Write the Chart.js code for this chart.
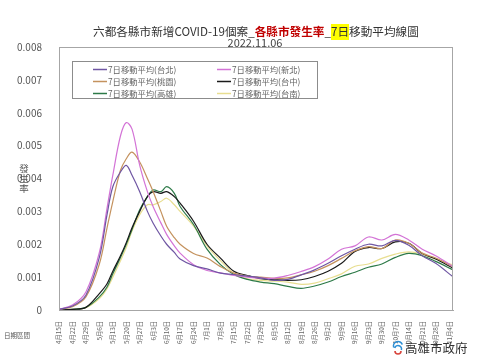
<!DOCTYPE html>
<html>
<head>
<meta charset="utf-8">
<script src="https://cdn.jsdelivr.net/npm/chart.js@4"></script>
<style>
  html, body { margin: 0; padding: 0; background: #fff; }
  #wrap { width: 480px; height: 359px; position: relative; }
</style>
</head>
<body>
<div id="wrap"><canvas id="rateChart" width="480" height="359"></canvas></div>
<script>
// 六都 7日移動平均發生率 (讀圖估計值)

// 取樣日 (自 4月15日 起算的天數)
const sampleDays = [0, 7, 14, 21, 25, 28, 32, 35, 38, 42, 46, 49, 53, 56, 60, 63, 70, 77, 84, 91,
  98, 105, 112, 119, 126, 133, 140, 147, 154, 161, 168, 175, 182, 189, 196, 205];

const tickLabels = ['4月15日', '4月22日', '4月29日', '5月6日', '5月13日', '5月20日', '5月27日',
  '6月3日', '6月10日', '6月17日', '6月24日', '7月1日', '7月8日', '7月15日', '7月22日', '7月29日',
  '8月5日', '8月12日', '8月19日', '8月26日', '9月2日', '9月9日', '9月16日', '9月23日', '9月30日',
  '10月7日', '10月14日', '10月21日', '10月28日', '11月4日'];

const cityNames = ['7日移動平均(台北)', '7日移動平均(新北)', '7日移動平均(桃園)',
  '7日移動平均(台中)', '7日移動平均(高雄)', '7日移動平均(台南)'];

const taipei = [0.00002, 0.00012, 0.00045, 0.0016, 0.0029, 0.00375, 0.0042, 0.0044, 0.0041,
  0.0036, 0.0030, 0.00264, 0.00225, 0.0020, 0.00175, 0.00155, 0.00135, 0.00125, 0.00112, 0.00108,
  0.00103, 0.00098, 0.0009, 0.00093, 0.00107, 0.00122, 0.00142, 0.00165, 0.00185, 0.0020,
  0.00195, 0.00212, 0.00197, 0.00165, 0.00142, 0.00101];

const newTaipei = [0.00002, 0.00015, 0.00055, 0.00175, 0.0031, 0.0041, 0.0053, 0.0057, 0.0055,
  0.0044, 0.0036, 0.00314, 0.00265, 0.0023, 0.00195, 0.00173, 0.00138, 0.0012, 0.00113, 0.00105,
  0.001, 0.00097, 0.00097, 0.00105, 0.00117, 0.00132, 0.00155, 0.00185, 0.00195, 0.00222,
  0.00213, 0.0023, 0.00213, 0.00185, 0.00165, 0.00132];

const taoyuan = [0.00002, 0.0001, 0.0004, 0.0014, 0.0025, 0.0033, 0.00425, 0.0046, 0.0048,
  0.0045, 0.0040, 0.0036, 0.0030, 0.00255, 0.0022, 0.0020, 0.00172, 0.00158, 0.00132, 0.00112,
  0.00103, 0.001, 0.00096, 0.00098, 0.00107, 0.00118, 0.00135, 0.00157, 0.0018, 0.00193,
  0.00187, 0.00213, 0.00203, 0.00173, 0.00158, 0.00132];

const taichung = [0, 0.00002, 0.00008, 0.0005, 0.0008, 0.00118, 0.00165, 0.00205, 0.0025,
  0.003, 0.00345, 0.0036, 0.00355, 0.0036, 0.00345, 0.00325, 0.0027, 0.002, 0.00158, 0.00118,
  0.00105, 0.00095, 0.00092, 0.0009, 0.00092, 0.00102, 0.00118, 0.00142, 0.00178, 0.0019,
  0.00187, 0.00207, 0.00203, 0.00172, 0.00155, 0.00127];

const kaohsiung = [0, 0.00002, 0.00008, 0.0004, 0.0007, 0.0011, 0.0016, 0.002, 0.00245,
  0.00305, 0.00345, 0.00365, 0.0036, 0.00375, 0.00355, 0.00315, 0.0026, 0.00185, 0.00138, 0.00108,
  0.00093, 0.00085, 0.0008, 0.00072, 0.00066, 0.00073, 0.00085, 0.00102, 0.00115, 0.0013,
  0.0014, 0.0016, 0.00172, 0.00165, 0.00148, 0.00122];

const tainan = [0, 0.00002, 0.00007, 0.00035, 0.00065, 0.001, 0.0015, 0.0019, 0.0024,
  0.0029, 0.0032, 0.0032, 0.0033, 0.0034, 0.0032, 0.003, 0.00255, 0.00195, 0.0015, 0.00112,
  0.00095, 0.0009, 0.00088, 0.00085, 0.00078, 0.00082, 0.00095, 0.0011, 0.00133, 0.0014,
  0.00157, 0.0017, 0.00177, 0.0017, 0.00155, 0.00137];

const seriesValues = [taipei, newTaipei, taoyuan, taichung, kaohsiung, tainan];
const lineColors = ['#6f56a3', '#d373d6', '#c4925e', '#1a1a1a', '#2d7a48', '#e8de90'];

const FONT = "'Noto Sans CJK TC', 'Noto Sans', sans-serif";

// 標題、圖例、其他文字
const decorPlugin = {
  id: 'decor',
  afterDatasetsDraw(chart) {
    const ctx = chart.ctx;
    const area = chart.chartArea;
    ctx.save();

    // 外框
    ctx.strokeStyle = '#a6a6a6';
    ctx.lineWidth = 1;
    ctx.strokeRect(area.left + 0.5, area.top + 0.5, area.right - area.left - 1, area.bottom - area.top);

    // 圖例
    ctx.fillStyle = '#fff';
    ctx.fillRect(72.5, 61.5, 245, 37);
    ctx.strokeStyle = '#8c8c8c';
    ctx.strokeRect(72.5, 61.5, 245, 37);
    ctx.font = '8.3px ' + FONT;
    ctx.textBaseline = 'middle';
    ctx.textAlign = 'left';
    chart.data.datasets.forEach(function(ds, i) {
      const x0 = i % 2 === 0 ? 93 : 217;
      const y0 = 69.5 + Math.floor(i / 2) * 12;
      ctx.strokeStyle = ds.borderColor;
      ctx.lineWidth = 1.5;
      ctx.beginPath();
      ctx.moveTo(x0, y0);
      ctx.lineTo(x0 + 14, y0);
      ctx.stroke();
      ctx.fillStyle = '#666';
      ctx.fillText(ds.label, x0 + 15, y0);
    });
    ctx.restore();
  },
  afterDraw(chart) {
    const ctx = chart.ctx;
    ctx.save();
    ctx.textBaseline = 'middle';

    // 主標題 (分段上色)
    const parts = [
      { t: '六都各縣市新增COVID-19個案', c: '#333', b: false },
      { t: '_', c: '#333', b: false },
      { t: '各縣市發生率', c: '#c00000', b: true },
      { t: '_', c: '#333', b: false },
      { t: '7日', c: '#333', b: false, bg: '#ffff00' },
      { t: '移動平均線圖', c: '#333', b: false }
    ];
    const base = 14;
    let total = 0;
    parts.forEach(function(p) {
      ctx.font = (p.b ? 'bold ' : '') + base + 'px ' + FONT;
      total += ctx.measureText(p.t).width;
    });
    const size = base * 326 / total;
    let x = 93;
    parts.forEach(function(p) {
      ctx.font = (p.b ? 'bold ' : '') + size + 'px ' + FONT;
      const w = ctx.measureText(p.t).width;
      if (p.bg) {
        ctx.fillStyle = p.bg;
        ctx.fillRect(x, 24, w, 16);
      }
      ctx.fillStyle = p.c;
      ctx.textAlign = 'left';
      ctx.fillText(p.t, x, 32);
      x += w;
    });

    // 日期
    ctx.font = '11px ' + FONT;
    ctx.fillStyle = '#444';
    ctx.textAlign = 'center';
    ctx.fillText('2022.11.06', 255, 43);

    // y軸標題 (直書)
    ctx.font = '9.5px ' + FONT;
    ctx.fillStyle = '#555';
    ['發', '生', '率'].forEach(function(ch, i) {
      ctx.fillText(ch, 24, 168 + i * 10);
    });

    // 日期區間
    ctx.font = '6.5px ' + FONT;
    ctx.textAlign = 'left';
    ctx.fillText('日期區間', 4, 336);

    // 高雄市政府
    ctx.strokeStyle = '#2d8fd5';
    ctx.lineWidth = 1.6;
    ctx.beginPath();
    ctx.arc(398, 346, 4.5, Math.PI * 0.9, Math.PI * 1.9);
    ctx.stroke();
    ctx.beginPath();
    ctx.arc(398, 349, 3.5, Math.PI * 1.1, Math.PI * 2.1);
    ctx.stroke();
    ctx.strokeStyle = '#d8443c';
    ctx.beginPath();
    ctx.arc(398, 351, 3, 0, Math.PI);
    ctx.stroke();
    ctx.font = '12.5px ' + FONT;
    ctx.fillStyle = '#333';
    ctx.fillText('高雄市政府', 405, 348);
    ctx.restore();
  }
};

const ctx = document.getElementById('rateChart');
new Chart(ctx.getContext('2d'), {
  type: 'line',
  data: {
    datasets: seriesValues.map(function(vals, i) {
      return {
        label: cityNames[i],
        data: vals.map(function(v, k) { return { x: sampleDays[k], y: v }; }),
        borderColor: lineColors[i],
        backgroundColor: lineColors[i],
        borderWidth: 1.2,
        pointRadius: 0,
        fill: false,
        tension: 0.35
      };
    })
  },
  options: {
    responsive: false,
    animation: false,
    layout: { padding: { top: 47, right: 27, left: 0, bottom: 0 } },
    plugins: {
      legend: { display: false },
      title: { display: false },
      tooltip: { enabled: false }
    },
    scales: {
      x: {
        type: 'linear',
        min: 0,
        max: 205,
        grid: { display: false },
        border: { display: true, color: '#a6a6a6' },
        afterFit: function(scale) { scale.height = 49; },
        ticks: {
          stepSize: 7,
          includeBounds: false,
          autoSkip: false,
          maxTicksLimit: 40,
          minRotation: 90,
          maxRotation: 90,
          padding: 3,
          color: '#666',
          font: { family: FONT, size: 6.3 },
          callback: function(value) {
            return value % 7 === 0 ? tickLabels[value / 7] : '';
          }
        }
      },
      y: {
        min: 0,
        max: 0.008,
        grid: { display: false },
        border: { display: true, color: '#a6a6a6' },
        afterFit: function(scale) { scale.width = 59; },
        ticks: {
          stepSize: 0.001,
          padding: 9,
          color: '#555',
          font: { family: FONT, size: 10 },
          callback: function(value) {
            return value === 0 ? '0' : value.toFixed(3);
          }
        }
      }
    }
  },
  plugins: [decorPlugin]
});
</script>
</body>
</html>
